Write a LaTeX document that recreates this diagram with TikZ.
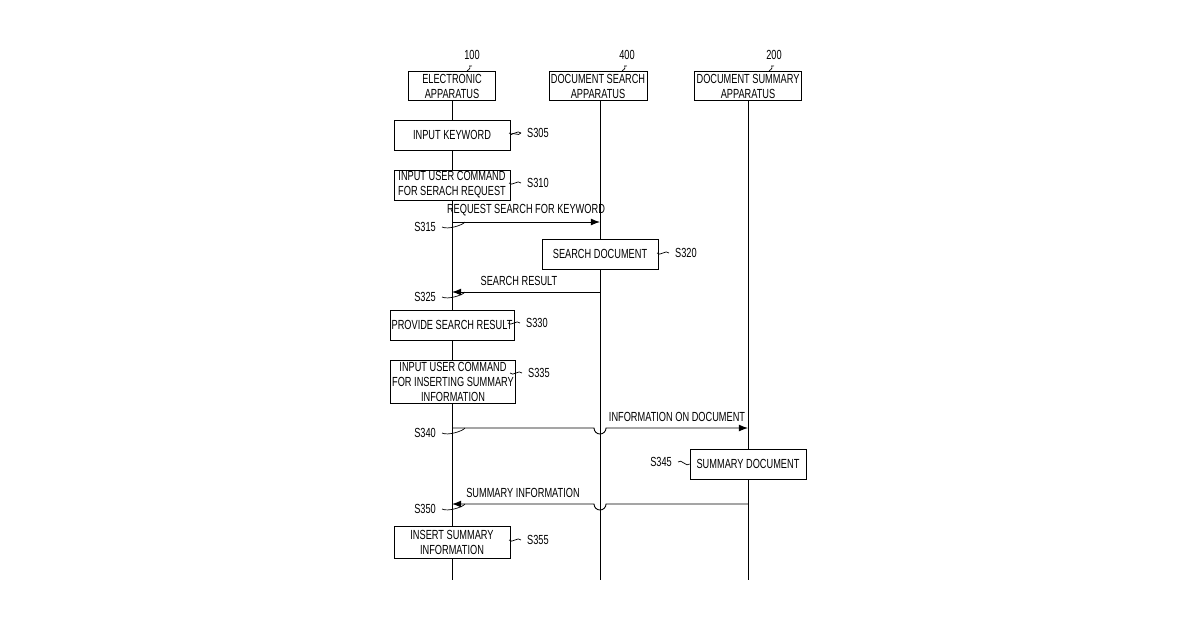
\documentclass[tikz,border=0pt]{standalone}
\usepackage{fontspec}
\setmainfont{Liberation Sans}[FakeStretch=0.7]
\usetikzlibrary{arrows.meta,positioning}
\tikzset{>=Latex}

\begin{document}
\begin{tikzpicture}[x=0.02cm,y=-0.02cm,
font=\fontsize{7.5}{8.5}\selectfont,
squarednode/.style={rectangle, draw=black, fill=white, align=center, inner sep=1pt},
headnode/.style={squarednode, minimum width=1.74cm, minimum height=0.58cm},
stepnode/.style={squarednode, minimum width=2.32cm, minimum height=0.6cm},
lifeline/.style={draw, line width=0.5pt},
msg/.style={->, line width=0.5pt},
tilde/.style={line width=0.4pt},
]
\useasboundingbox (0,0) rectangle (1200,630);
%Header nodes
\node[headnode](Electronic apparatus) at (452,86){ELECTRONIC\\APPARATUS};
\node[headnode](Search apparatus) at (598,86){DOCUMENT SEARCH\\APPARATUS};
\node[headnode](Summary apparatus) at (748,86){DOCUMENT SUMMARY\\APPARATUS};
\node(L100) at (472,55){100};
\node(L400) at (627,55){400};
\node(L200) at (774,55){200};
\draw[tilde] (L100.south) .. controls (466,66) and (474,66) .. (467,71);
\draw[tilde] (L400.south) .. controls (621,66) and (629,66) .. (622,71);
\draw[tilde] (L200.south) .. controls (768,66) and (776,66) .. (769,71);

%Lifelines
\coordinate(E end) at (452,580);
\coordinate(S end) at (600,580);
\coordinate(D end) at (748,580);
\draw[lifeline] (Electronic apparatus) -- (E end);
\draw[lifeline] (600,100) -- (S end);
\draw[lifeline] (Summary apparatus) -- (D end);

%Steps
\node[stepnode](Input keyword) at (452,135){INPUT KEYWORD};
\node[stepnode](Input command) at (452,185){INPUT USER COMMAND\\FOR SERACH REQUEST};
\node[stepnode](Search document) at (600,254){SEARCH DOCUMENT};
\node[stepnode](Provide result) at (452,325){PROVIDE SEARCH RESULT};
\node[stepnode, minimum height=0.86cm](Insert command) at (453,382){INPUT USER COMMAND\\FOR INSERTING SUMMARY\\INFORMATION};
\node[stepnode](Summary document) at (748,464){SUMMARY DOCUMENT};
\node[stepnode, minimum height=0.64cm](Insert summary) at (452,542){INSERT SUMMARY\\INFORMATION};

%Step labels
\node[anchor=west](S305) at (521,133){S305};
\node[anchor=west](S310) at (521,183){S310};
\node[anchor=west](S320) at (669,253){S320};
\node[anchor=west](S330) at (520,323){S330};
\node[anchor=west](S335) at (522,373){S335};
\node[anchor=east](S345) at (678,462){S345};
\node[anchor=west](S355) at (521,540){S355};
\node[anchor=east](S315) at (442,227){S315};
\node[anchor=east](S325) at (442,297){S325};
\node[anchor=east](S340) at (442,433){S340};
\node[anchor=east](S350) at (442,509){S350};
\foreach \s in {S305,S310,S320,S330,S335,S355}
  \draw[tilde] (\s.west) .. controls +(-3,-4) and +(3,4) .. +(-12,0);
\draw[tilde] (Input keyword.east) .. controls +(3,-4) and +(-3,4) .. (S305.west);
\draw[tilde] (S345.east) .. controls +(3,-4) and +(-3,4) .. (Summary document.west);
\foreach \s/\y in {S315/222,S325/292,S340/428,S350/504}
  \draw[tilde] (\s.east) .. controls +(6,3) and +(-2,3) .. (465,\y);

%Messages
\draw[msg] (Input command.south |- 0,222) -- node[above]{REQUEST SEARCH FOR KEYWORD} (S end |- 0,222);
\draw[msg] (S end |- 0,292) -- node[above, xshift=-4]{SEARCH RESULT} (E end |- 0,292);
\draw[msg] (E end |- 0,428) -- (594,428) arc[start angle=180, end angle=0, radius=6] -- node[above]{INFORMATION ON DOCUMENT} (D end |- 0,428);
\draw[msg] (D end |- 0,504) -- (606,504) arc[start angle=0, end angle=180, radius=6] -- node[above, pos=0.5]{SUMMARY INFORMATION} (E end |- 0,504);
\end{tikzpicture}
\end{document}
